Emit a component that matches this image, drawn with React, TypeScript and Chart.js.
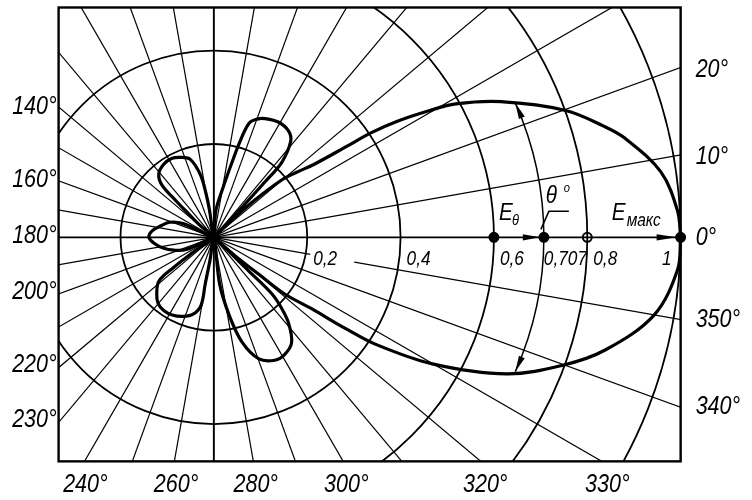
import React, { useEffect, useRef } from 'react';
import { Chart, registerables } from 'chart.js';

Chart.register(...registerables);

// ---- data: radiation pattern, angle (deg) and normalized field E/Emax ----
const patternAngles = [
  0, 3.3, 8.4, 13.7, 16, 20, 25.5, 29.1, 30.7, 32.6, 33.9, 34.6, 36.3, 38.5, 40.5, 42.5, 44,
  45,
  47, 47.6, 48.1, 51.6, 55.1, 60.8, 66.9, 70, 73, 75, 76.5, 79.8, 85.8,
  90,
  99, 100, 102, 106.7, 112.5, 118, 124.2, 130.7, 134.5, 135.8, 136.5, 139,
  146,
  155.7, 161, 167.5, 174, 180, 186, 192.5, 198, 204,
  211,
  216, 217, 218.8, 225, 230, 235.8, 242, 249, 255, 259.4, 259.6, 260.5,
  268,
  277, 281.2, 285, 290.2, 296.2, 301, 306.2, 310.8, 313.5, 315.5, 315.8, 316.5,
  318,
  318.8, 320.4, 321.1, 323.6, 325, 326.3, 329.7, 334.8, 339.7, 343.8, 349.9, 356, 360,
];
const patternRadii = [
  1.0, 0.995, 0.968, 0.906, 0.87, 0.802, 0.681, 0.593, 0.536, 0.465, 0.404, 0.348, 0.267, 0.225, 0.19, 0.12, 0.05,
  0,
  0.08, 0.162, 0.218, 0.265, 0.28, 0.285, 0.279, 0.272, 0.258, 0.211, 0.167, 0.107, 0.057,
  0,
  0.06, 0.094, 0.138, 0.176, 0.187, 0.193, 0.191, 0.181, 0.159, 0.112, 0.082, 0.04,
  0,
  0.072, 0.1, 0.116, 0.133, 0.139, 0.128, 0.11, 0.09, 0.065,
  0,
  0.06, 0.108, 0.151, 0.173, 0.186, 0.191, 0.19, 0.183, 0.172, 0.15, 0.103, 0.05,
  0,
  0.102, 0.174, 0.235, 0.28, 0.296, 0.295, 0.282, 0.245, 0.21, 0.174, 0.106, 0.05,
  0,
  0.06, 0.126, 0.195, 0.259, 0.34, 0.417, 0.542, 0.693, 0.797, 0.873, 0.958, 0.996, 1.0,
];

// grid
const ringValues = [0.2, 0.4, 0.6, 0.8, 1.0];
const spokeAngles = [0, 10, 20, 30, 40, 50, 60, 70, 80, 90, 100, 110, 120, 130, 140, 150, 160, 170,
  180, 190, 200, 210, 220, 230, 240, 250, 260, 270, 280, 290, 300, 310, 320, 330, 340, 350];

// labels
const ringLabelValues = [0.2, 0.4, 0.6, 0.707, 0.8, 1];
const ringLabelTexts = ['0,2', '0,4', '0,6', '0,707', '0,8', '1'];
const leftTickAngles = [140, 160, 180, 200, 220, 230];
const rightTickAngles = [20, 10, 0, 350, 340];
const bottomTickAngles = [240, 260, 280, 300, 320, 330];

// marked points on the 0° axis
const markerValues = [0.6, 0.707, 0.8, 1];
const markerFilled = [true, true, false, true];

// half-power level and angle
const halfPowerLevel = 0.707;
const halfPowerAngle = 24;

// frame (data units)
const FRAME = { left: -0.3326, right: 1.0, top: 0.4968, bottom: -0.4842 };
const X_RANGE = { min: -0.44421, max: 1.13895 };
const Y_RANGE = { min: -0.55368, max: 0.49895 };

const FONT = '"Liberation Sans", "DejaVu Sans", Arial, sans-serif';
const rad = (d: number) => (d * Math.PI) / 180;

function txt(ctx: CanvasRenderingContext2D, s: string, x: number, y: number, size: number,
  align: CanvasTextAlign = 'left', sx = 0.86) {
  ctx.save();
  ctx.font = `italic ${size}px ${FONT}`;
  ctx.textAlign = align;
  ctx.textBaseline = 'alphabetic';
  ctx.translate(x, y);
  ctx.scale(sx, 1);
  ctx.fillStyle = '#000';
  ctx.fillText(s, 0, 0);
  ctx.restore();
}

function arrowHead(ctx: CanvasRenderingContext2D, tx: number, ty: number, dx: number, dy: number, L = 15, w = 3.3) {
  const n = Math.hypot(dx, dy);
  const ux = dx / n, uy = dy / n;
  const bx = tx - ux * L, by = ty - uy * L;
  ctx.beginPath();
  ctx.moveTo(tx, ty);
  ctx.lineTo(bx - uy * w, by + ux * w);
  ctx.lineTo(bx + uy * w, by - ux * w);
  ctx.closePath();
  ctx.fillStyle = '#000';
  ctx.fill();
}

const polarPlugin = {
  id: 'polarGrid',
  beforeDatasetsDraw(chart: any) {
    const ctx: CanvasRenderingContext2D = chart.ctx;
    const xs = chart.scales.x, ys = chart.scales.y;
    const X = (v: number) => xs.getPixelForValue(v);
    const Y = (v: number) => ys.getPixelForValue(v);
    const cx = X(0), cy = Y(0);
    const R = X(1) - X(0);
    const fl = X(FRAME.left), fr = X(FRAME.right), ft = Y(FRAME.top), fb = Y(FRAME.bottom);

    ctx.save();
    ctx.fillStyle = '#fff';
    ctx.fillRect(0, 0, chart.width, chart.height);
    ctx.beginPath();
    ctx.rect(fl, ft, fr - fl, fb - ft);
    ctx.clip();
    ctx.strokeStyle = '#000';
    // spokes
    for (const a of spokeAngles) {
      ctx.beginPath();
      ctx.lineWidth = a % 90 === 0 ? 1.9 : 1.2;
      ctx.moveTo(cx, cy);
      ctx.lineTo(cx + Math.cos(rad(a)) * R * 3, cy - Math.sin(rad(a)) * R * 3);
      ctx.stroke();
    }
    // rings
    ctx.lineWidth = 1.8;
    for (const r of ringValues) {
      ctx.beginPath();
      ctx.arc(cx, cy, r * R, 0, Math.PI * 2);
      ctx.stroke();
    }
    // half-power arc with arrows
    const hr = halfPowerLevel * R;
    const ha = rad(halfPowerAngle);
    ctx.lineWidth = 1.5;
    ctx.beginPath();
    ctx.arc(cx, cy, hr, -ha, ha);
    ctx.stroke();
    arrowHead(ctx, cx + Math.cos(ha) * hr, cy - Math.sin(ha) * hr, -Math.sin(ha), -Math.cos(ha), 16, 3.2);
    arrowHead(ctx, cx + Math.cos(ha) * hr, cy + Math.sin(ha) * hr, -Math.sin(ha), Math.cos(ha), 16, 3.2);
    // axis arrows
    arrowHead(ctx, X(halfPowerLevel) - 4, cy, 1, 0, 17, 3.2);
    arrowHead(ctx, X(1) - 4, cy, 1, 0, 20, 3.2);
    ctx.restore();

    // frame
    ctx.save();
    ctx.strokeStyle = '#000';
    ctx.lineWidth = 2.4;
    ctx.strokeRect(fl, ft, fr - fl, fb - ft);
    ctx.restore();
  },
  afterDatasetsDraw(chart: any) {
    const ctx: CanvasRenderingContext2D = chart.ctx;
    const xs = chart.scales.x, ys = chart.scales.y;
    const X = (v: number) => xs.getPixelForValue(v);
    const Y = (v: number) => ys.getPixelForValue(v);
    const cy = Y(0);
    const fl = X(FRAME.left), fr = X(FRAME.right), fb = Y(FRAME.bottom);

    // ring value labels
    ringLabelValues.forEach((v, i) => {
      const s = ringLabelTexts[i];
      const last = i === ringLabelValues.length - 1;
      const px = X(v);
      if (i === 0) {
        ctx.save();
        ctx.fillStyle = '#fff';
        ctx.fillRect(px + 3, cy + 8, 44, 18);
        ctx.restore();
      }
      if (last) txt(ctx, s, px - 9, cy + 28, 21, 'right', 0.82);
      else txt(ctx, s, px + (v === 0.707 ? 0 : 6), cy + 28, 21, 'left', 0.82);
    });

    // angle tick labels
    for (const a of leftTickAngles) {
      const y = FRAME.left * Math.tan(rad(a));
      txt(ctx, `${a}°`, fl - 2, Y(y) + 6, 25, 'right');
    }
    for (const a of rightTickAngles) {
      const y = FRAME.right * Math.tan(rad(a));
      txt(ctx, `${a}°`, fr + 15, Y(y) + 8, 25, 'left');
    }
    for (const a of bottomTickAngles) {
      const x = FRAME.bottom / Math.tan(rad(a));
      txt(ctx, `${a}°`, X(x) + 2, fb + 31, 25, 'center');
    }

    // annotations E_θ, θ°, E_макс
    const p6 = X(0.6), p7 = X(halfPowerLevel), p1 = X(1);
    txt(ctx, 'E', p6 + 5, cy - 17, 24, 'left');
    txt(ctx, 'θ', p6 + 18, cy - 12, 15, 'left');
    txt(ctx, 'θ', p7 + 2, cy - 34, 24, 'left');
    txt(ctx, 'o', p7 + 20, cy - 45, 13, 'left');
    ctx.save();
    ctx.strokeStyle = '#000';
    ctx.lineWidth = 1.5;
    ctx.beginPath();
    ctx.moveTo(p7 - 3, cy - 8);
    ctx.lineTo(p7 + 5, cy - 26);
    ctx.lineTo(p7 + 25, cy - 26);
    ctx.stroke();
    ctx.restore();
    txt(ctx, 'E', p1 - 69, cy - 17, 24, 'left');
    txt(ctx, 'макс', p1 - 54, cy - 11, 18, 'left');
  },
};

export default function App() {
  const ref = useRef<HTMLCanvasElement | null>(null);
  useEffect(() => {
    if (!ref.current) return;
    const pts = patternAngles.map((a, i) => ({
      x: patternRadii[i] * Math.cos(rad(a)),
      y: patternRadii[i] * Math.sin(rad(a)),
    }));
    const markers = markerValues.map((v) => ({ x: v, y: 0 }));
    const chart = new Chart(ref.current, {
      type: 'scatter',
      data: {
        datasets: [
          {
            data: pts,
            showLine: true,
            borderColor: '#000',
            borderWidth: 3.2,
            pointRadius: 0,
            tension: 0.35,
            fill: false,
          } as any,
          {
            data: markers,
            showLine: false,
            pointRadius: 4.5,
            pointBorderWidth: 2,
            pointBorderColor: '#000',
            pointBackgroundColor: markerFilled.map((f) => (f ? '#000' : 'rgba(0,0,0,0)')),
          } as any,
        ],
      },
      options: {
        animation: false,
        responsive: false,
        devicePixelRatio: 1,
        events: [],
        layout: { padding: 0 },
        plugins: { legend: { display: false }, tooltip: { enabled: false }, title: { display: false } },
        scales: {
          x: { type: 'linear', display: false, min: X_RANGE.min, max: X_RANGE.max },
          y: { type: 'linear', display: false, min: Y_RANGE.min, max: Y_RANGE.max },
        },
      },
      plugins: [polarPlugin],
    });
    return () => chart.destroy();
  }, []);
  return (
    <div style={{ position: 'fixed', left: 0, top: 0, width: 752, height: 500, background: '#fff' }}>
      <canvas ref={ref} width={752} height={500} />
    </div>
  );
}
